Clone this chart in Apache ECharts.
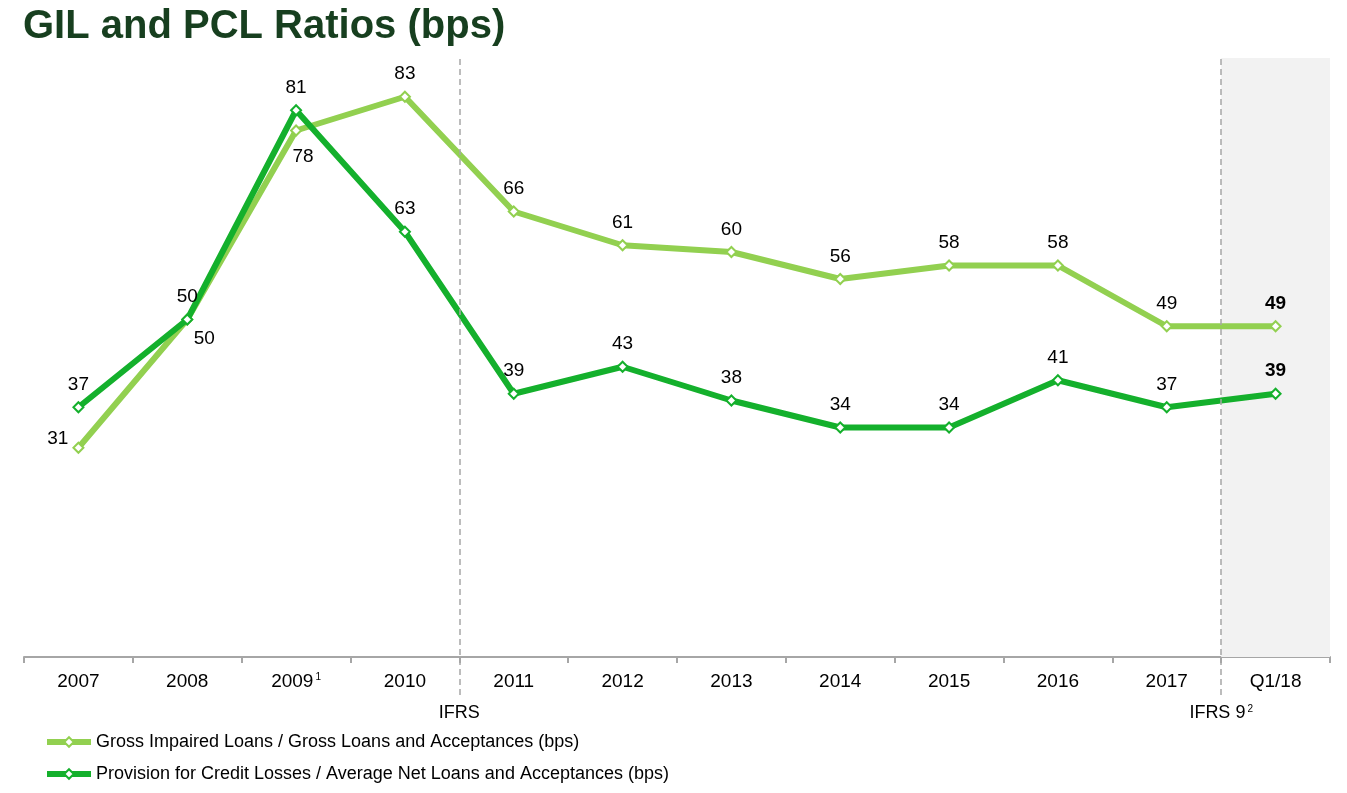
<!DOCTYPE html>
<html><head><meta charset="utf-8">
<script src="https://cdn.jsdelivr.net/npm/echarts@6/dist/echarts.min.js"></script>
<style>html,body{margin:0;padding:0;background:#fff}#c{width:1347px;height:793px}</style>
</head><body><div id="c"></div>
<script>
const categories = ['2007','2008','2009','2010','2011','2012','2013','2014','2015','2016','2017','Q1/18'];
const categoryNotes = {'2009':'1'};
const gilValues = [31,50,78,83,66,61,60,56,58,58,49,49];
const pclValues = [37,50,81,63,39,43,38,34,34,41,37,39];
const gilName = 'Gross Impaired Loans / Gross Loans and Acceptances (bps)';
const pclName = 'Provision for Credit Losses / Average Net Loans and Acceptances (bps)';
const regimeBreaks = [4, 11];
const regimeLabels = ['IFRS', 'IFRS 9|2'];
const shadedCategory = 'Q1/18';

const FONT = 'Liberation Sans, Arial, sans-serif';
const Y_MAX = 88.74;
const LIGHT = '#92d050', DARK = '#14b02c';

function labelFor(series, i) {
  const last = i === categories.length - 1;
  const base = {fontWeight: last ? 'bold' : 'normal'};
  if (series === 'gil') {
    if (i === 0) return Object.assign(base, {position:'left', distance:4, offset:[0,-9]});
    if (i === 1) return Object.assign(base, {position:'bottom', distance:4, offset:[17,0]});
    if (i === 2) return Object.assign(base, {position:'bottom', distance:11, offset:[7,0]});
  }
  return base;
}
const gilData = gilValues.map((v,i)=>({value:v, label:labelFor('gil',i)}));
const pclData = pclValues.map((v,i)=>({value:v, label:labelFor('pcl',i)}));
const shadeData = categories.map(c => c === shadedCategory ? Y_MAX : null);

const chart = echarts.init(document.getElementById('c'));
const lineLabel = {show:true, position:'top', distance:7, fontSize:19, color:'#000', fontFamily:FONT};

chart.setOption({
  animation:false,
  textStyle:{fontFamily:FONT},
  title:{text:'GIL and PCL Ratios (bps)', left:23, top:7, padding:0,
    textStyle:{fontFamily:FONT, fontSize:40, fontWeight:'bold', color:'#173f1f'}},
  legend:{orient:'vertical', left:44, top:733, padding:0, itemWidth:44, itemHeight:12, itemGap:14,
    lineStyle:{width:6},
    textStyle:{fontSize:18, color:'#000', fontFamily:FONT},
    data:[gilName, pclName]},
  grid:[
    {left:24, right:17, top:58, bottom:136},
    {left:24, right:17, top:58, bottom:98}
  ],
  xAxis:[
    {type:'category', gridIndex:0, data:categories, boundaryGap:true,
      axisLine:{lineStyle:{color:'#a6a6a6', width:2}},
      axisTick:{show:true, interval:0, length:6, lineStyle:{color:'#a6a6a6', width:2}},
      axisLabel:{interval:0, fontSize:19, color:'#000', margin:15, fontFamily:FONT,
        formatter:v => categoryNotes[v] ? '{n|'+v+'}{s|'+categoryNotes[v]+'}' : '{n|'+v+'}',
        rich:{n:{fontSize:19, color:'#000', fontFamily:FONT}, s:{fontSize:10, color:'#000', padding:[0,0,9,2], fontFamily:FONT}}},
      splitLine:{show:false}},
    {type:'value', gridIndex:1, min:0, max:categories.length, show:false}
  ],
  yAxis:[
    {type:'value', gridIndex:0, min:0, max:Y_MAX, show:false},
    {type:'value', gridIndex:1, min:0, max:1, show:false}
  ],
  series:[
    {type:'bar', name:'shade', xAxisIndex:0, yAxisIndex:0, data:shadeData, barWidth:'100%',
      silent:true, itemStyle:{color:'#f2f2f2'}, z:0, legendHoverLink:false},
    {type:'line', name:'breaks', xAxisIndex:1, yAxisIndex:1, data:[[0,-5]], showSymbol:false,
      lineStyle:{opacity:0}, silent:true, z:1,
      markLine:{symbol:'none', silent:true, animation:false,
        lineStyle:{type:[6,4], color:'#a6a6a6', width:1.5},
        label:{show:true, position:'start', distance:9, fontSize:18, color:'#000', fontFamily:FONT,
          rich:{n:{fontSize:18, color:'#000', fontFamily:FONT}, s:{fontSize:10, color:'#000', padding:[0,0,9,2], fontFamily:FONT}}},
        data: regimeBreaks.map((b,i)=>{
          const parts = regimeLabels[i].split('|');
          const txt = '{n|'+parts[0]+'}' + (parts[1] ? '{s|'+parts[1]+'}' : '');
          return {xAxis:b, label:{formatter:txt}};
        })}},
    {type:'line', name:gilName, xAxisIndex:0, yAxisIndex:0, data:gilData, z:3,
      symbol:'diamond', symbolSize:10, showAllSymbol:true,
      lineStyle:{color:LIGHT, width:6}, itemStyle:{color:'#fff', borderColor:LIGHT, borderWidth:2},
      label:lineLabel},
    {type:'line', name:pclName, xAxisIndex:0, yAxisIndex:0, data:pclData, z:4,
      symbol:'diamond', symbolSize:10, showAllSymbol:true,
      lineStyle:{color:DARK, width:6}, itemStyle:{color:'#fff', borderColor:DARK, borderWidth:2},
      label:lineLabel}
  ]
});
</script></body></html>
